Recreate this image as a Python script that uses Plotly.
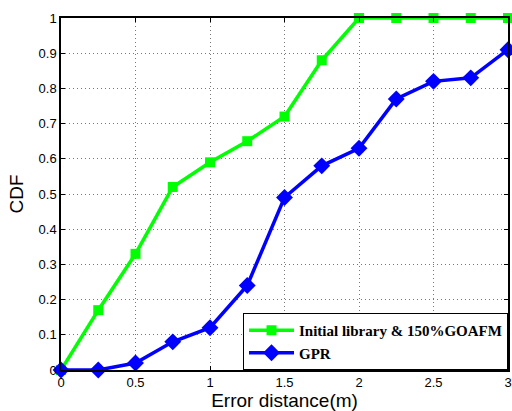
import plotly.graph_objects as go

x_vals = [0, 0.25, 0.5, 0.75, 1, 1.25, 1.5, 1.75, 2, 2.25, 2.5, 2.75, 3]
green_vals = [0, 0.17, 0.33, 0.52, 0.59, 0.65, 0.72, 0.88, 1, 1, 1, 1, 1]
blue_vals = [0, 0, 0.02, 0.08, 0.12, 0.24, 0.49, 0.58, 0.63, 0.77, 0.82, 0.83, 0.91]
green_name = "Initial library & 150%GOAFM"
blue_name = "GPR"
x_ticks = [0, 0.5, 1, 1.5, 2, 2.5, 3]
x_ticklabels = ["0", "0.5", "1", "1.5", "2", "2.5", "3"]
y_ticks = [0, 0.1, 0.2, 0.3, 0.4, 0.5, 0.6, 0.7, 0.8, 0.9, 1]
y_ticklabels = ["0", "0.1", "0.2", "0.3", "0.4", "0.5", "0.6", "0.7", "0.8", "0.9", "1"]

fig = go.Figure()
fig.add_trace(go.Scatter(
    x=x_vals, y=green_vals, name=green_name, mode="lines+markers",
    line=dict(color="#00ff00", width=3.5),
    marker=dict(symbol="square", size=10, color="#00ff00"),
    cliponaxis=False,
))
fig.add_trace(go.Scatter(
    x=x_vals, y=blue_vals, name=blue_name, mode="lines+markers",
    line=dict(color="#0000ff", width=3.5),
    marker=dict(symbol="diamond", size=13, color="#0000ff"),
    cliponaxis=False,
))

axis_common = dict(
    showline=True, linecolor="black", linewidth=1.5, mirror="ticks",
    ticks="inside", ticklen=4, tickcolor="black",
    showgrid=True, gridcolor="#777777", griddash="1px,3px", gridwidth=1,
    zeroline=False, automargin=False,
    tickfont=dict(family="Liberation Sans, Arial", size=13, color="black"),
)

fig.update_layout(
    width=512, height=411,
    margin=dict(l=61, r=4, t=18, b=41),
    paper_bgcolor="white", plot_bgcolor="white",
    xaxis=dict(range=[0, 3], tickvals=x_ticks, ticktext=x_ticklabels,
               title=dict(text="Error distance(m)", standoff=0,
                          font=dict(family="Liberation Sans, Arial", size=19, color="black")),
               **axis_common),
    yaxis=dict(range=[0, 1], tickvals=y_ticks, ticktext=y_ticklabels,
               title=dict(text="CDF", standoff=10,
                          font=dict(family="Liberation Sans, Arial", size=19, color="black")),
               **axis_common),
    legend=dict(
        x=1, y=0, xanchor="right", yanchor="bottom",
        bgcolor="white", bordercolor="black", borderwidth=1,
        font=dict(family="Liberation Serif, Times New Roman", size=15, color="black", weight="bold"),
        itemwidth=45, tracegroupgap=0,
    ),
    showlegend=True,
)

fig.write_html("out.html")
